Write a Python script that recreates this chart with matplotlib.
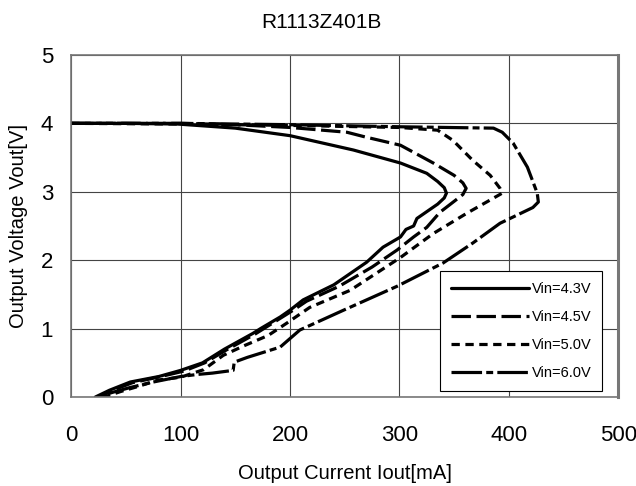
import matplotlib
matplotlib.use("Agg")
import matplotlib.pyplot as plt

plt.rcParams["font.family"] = ["Liberation Sans", "DejaVu Sans"]
plt.rcParams["lines.scale_dashes"] = False

# Vin = 4.3V (solid)
iout_43 = [0, 50, 97, 150, 200, 258, 301, 325, 335, 341, 343, 341, 335, 316, 313, 306, 301,
           285, 270, 240, 212, 200, 191, 173, 166, 140, 120, 100, 80, 54, 35, 22]
vout_43 = [4.0, 4.0, 3.99, 3.93, 3.82, 3.61, 3.42, 3.27, 3.15, 3.06, 2.98, 2.91, 2.82, 2.61, 2.50, 2.45, 2.34,
           2.19, 1.97, 1.64, 1.42, 1.27, 1.17, 1.0, 0.93, 0.70, 0.50, 0.39, 0.30, 0.22, 0.10, 0.0]

# Vin = 4.5V (long dash)
iout_45 = [0, 100, 150, 200, 252, 269, 301, 331, 350, 358, 361, 358, 350, 337, 325, 313, 298,
           275, 245, 215, 203, 193, 176, 168, 142, 122, 103, 82, 56, 38, 26]
vout_45 = [4.0, 4.0, 3.98, 3.94, 3.87, 3.80, 3.68, 3.42, 3.24, 3.13, 3.05, 2.96, 2.86, 2.70, 2.48, 2.34, 2.15,
           1.90, 1.62, 1.40, 1.27, 1.17, 1.0, 0.92, 0.69, 0.50, 0.38, 0.30, 0.21, 0.10, 0.0]

# Vin = 5.0V (short dash)
iout_50 = [0, 100, 200, 300, 335, 349, 367, 383, 392, 394, 383, 362, 331, 301, 255,
           218, 197, 180, 158, 139, 121, 100, 80, 60, 45, 30]
vout_50 = [4.0, 3.99, 3.97, 3.94, 3.90, 3.75, 3.46, 3.24, 3.05, 2.98, 2.88, 2.69, 2.39, 2.04, 1.56,
           1.31, 1.08, 0.90, 0.75, 0.61, 0.40, 0.29, 0.25, 0.15, 0.08, 0.0]

# Vin = 6.0V (dash-dot)
iout_60 = [0, 100, 200, 300, 386, 394, 404, 417, 426, 427, 422, 392, 367, 340, 298,
           249, 209, 191, 161, 149, 148, 129, 115, 100, 75, 54, 38, 24]
vout_60 = [4.0, 4.0, 3.98, 3.95, 3.93, 3.87, 3.71, 3.36, 2.98, 2.85, 2.77, 2.54, 2.25, 1.96, 1.62,
           1.27, 0.98, 0.73, 0.58, 0.51, 0.39, 0.35, 0.33, 0.30, 0.22, 0.14, 0.07, 0.0]

labels = ["Vin=4.3V", "Vin=4.5V", "Vin=5.0V", "Vin=6.0V"]

fig = plt.figure(figsize=(6.36, 4.86), dpi=100)
ax = fig.add_axes([0.112, 0.183, 0.860, 0.704])

lw = 2.3
ax.plot(iout_43, vout_43, color="black", lw=lw, solid_capstyle="round", label=labels[0])
ax.plot(iout_45, vout_45, color="black", lw=lw, dashes=(14, 4), label=labels[1])
ax.plot(iout_50, vout_50, color="black", lw=lw, dashes=(6, 4), label=labels[2])
ax.plot(iout_60, vout_60, color="black", lw=lw, dashes=(22, 3, 5, 3), label=labels[3])

ax.set_xlim(0, 500)
ax.set_ylim(0, 5)
ax.set_xticks([0, 100, 200, 300, 400, 500])
ax.set_yticks([0, 1, 2, 3, 4, 5])
ax.grid(True, color="#444444", lw=0.8)
ax.set_axisbelow(True)
ax.tick_params(axis="x", length=0, labelsize=16, pad=20)
ax.tick_params(axis="y", length=0, labelsize=16, pad=13)
for s in ax.spines.values():
    s.set_color("#777777")
    s.set_linewidth(1.2)
ax.spines["right"].set_linewidth(2.2)

# title sits centred on the figure, not the axes
fig.text(0.506, 1 - 22 / 486, "R1113Z401B", fontsize=15, ha="center", va="center")

ax.set_xlabel("Output Current Iout[mA]", fontsize=14.5, va="center")
ax.xaxis.set_label_coords(0.5, -0.222)
ax.set_ylabel("Output Voltage Vout[V]", fontsize=14.5, va="center")
ax.yaxis.set_label_coords(-0.097, 0.5)

leg = ax.legend(loc="upper left", bbox_to_anchor=(0.675, 0.368), fontsize=10.5,
                frameon=True, fancybox=False, edgecolor="black", framealpha=1,
                handlelength=5.3, handletextpad=0.2, labelspacing=0.95,
                borderpad=0.75, borderaxespad=0)
leg.get_frame().set_linewidth(0.8)

fig.savefig("out.png", dpi=100)
